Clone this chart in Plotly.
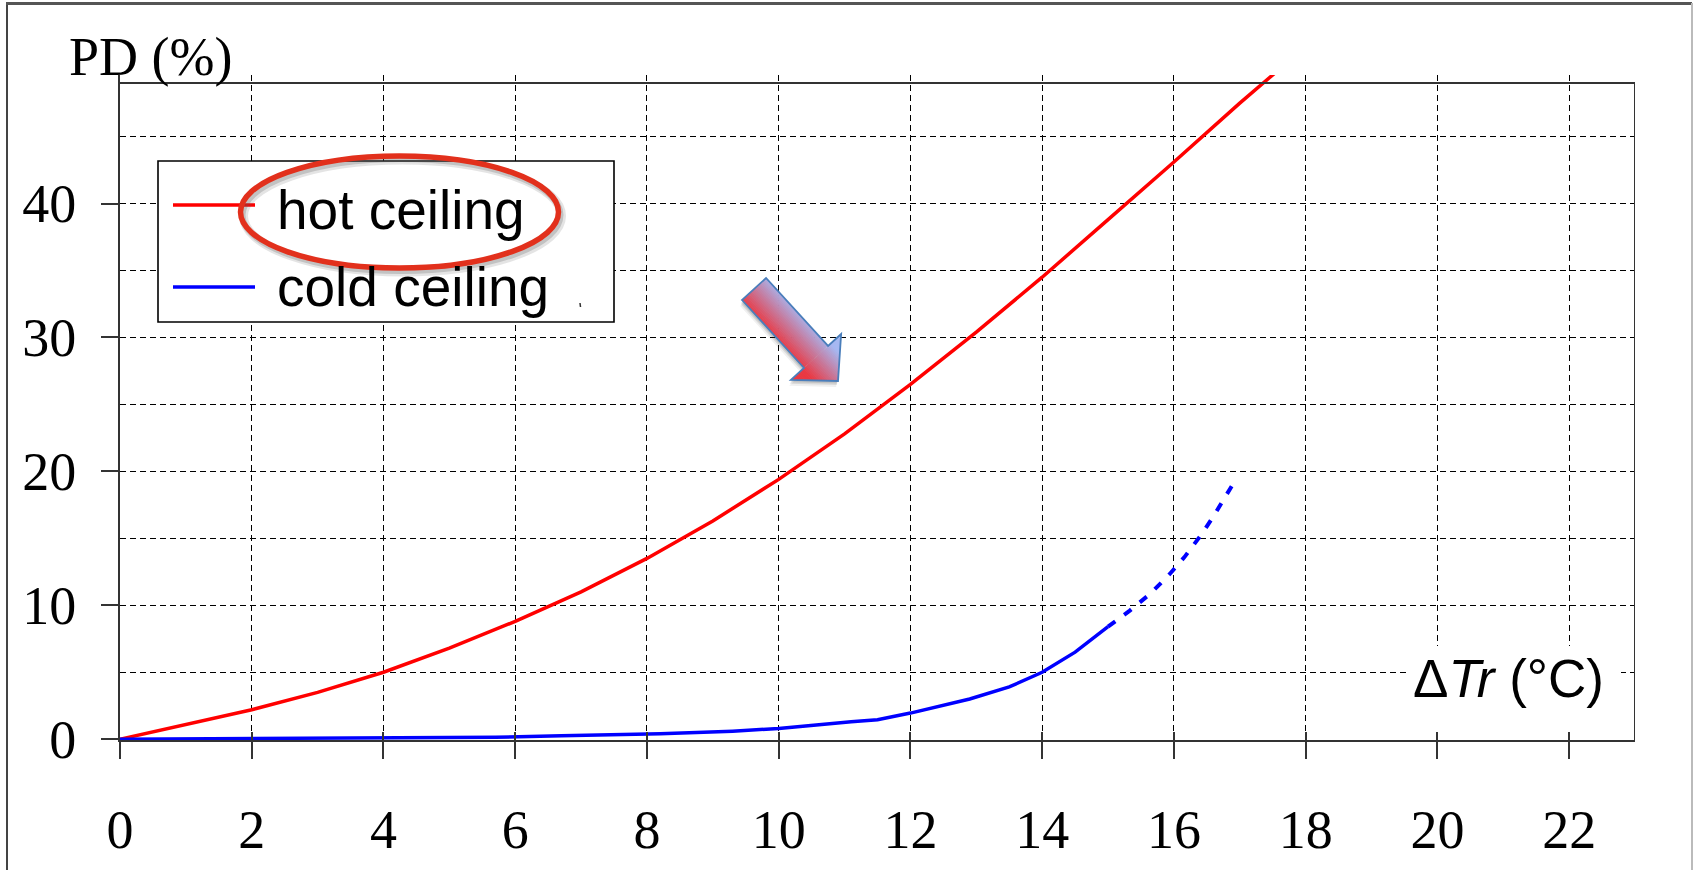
import plotly.graph_objects as go

# ---- data -------------------------------------------------------------
hot_x = [0, 1, 2, 3, 4, 5, 6, 7, 8, 9, 10, 11, 12, 13, 14, 15, 16, 17, 17.57]
hot_y = [0, 1.1, 2.2, 3.5, 5.0, 6.8, 8.8, 11.0, 13.5, 16.3, 19.4, 22.8, 26.5,
         30.4, 34.5, 38.8, 43.1, 47.5, 49.9]

cold_x = [0, 5.7, 6.7, 8.2, 9.3, 10, 11.1, 11.5, 12, 12.5, 12.9, 13.5, 14, 14.5, 15.0]
cold_y = [0, 0.15, 0.25, 0.4, 0.6, 0.8, 1.3, 1.45, 1.95, 2.5, 3.0, 3.9, 5.0, 6.5, 8.4]

cold_ext_x = [15.0, 15.33, 15.65, 15.93, 16.16, 16.42, 16.62, 16.89]
cold_ext_y = [8.4, 9.6, 10.9, 12.3, 13.6, 15.3, 16.8, 19.0]

x_ticks = [0, 2, 4, 6, 8, 10, 12, 14, 16, 18, 20, 22]
y_ticks = [0, 10, 20, 30, 40]

series_names = ["hot ceiling", "cold ceiling"]
series_colors = ["#ff0000", "#0000ff"]

X_RANGE = [0, 23]
Y_RANGE = [-0.06, 49.6]
Y_TOP = 49

W, H = 1694, 870
L, R, T, B = 120, 59, 75, 130
PW, PH = W - L - R, H - T - B


def px(x):
    return (x - L) / PW


def py(y):
    return (H - B - y) / PH


fig = go.Figure()

fig.add_trace(go.Scatter(x=hot_x, y=hot_y, mode="lines", name=series_names[0],
                         line=dict(color=series_colors[0], width=3.5),
                         showlegend=False))
fig.add_trace(go.Scatter(x=cold_x, y=cold_y, mode="lines", name=series_names[1],
                         line=dict(color=series_colors[1], width=3.5),
                         showlegend=False))
fig.add_trace(go.Scatter(x=cold_ext_x, y=cold_ext_y, mode="lines",
                         line=dict(color=series_colors[1], width=4, dash="9px,11px"),
                         showlegend=False))
# carrier for the inward half of the cross ticks on the bottom axis
fig.add_trace(go.Scatter(x=[], y=[], xaxis="x2", showlegend=False))

grid_dash = "6px,4px"
tick_font = dict(family="Liberation Serif", size=54, color="black")

fig.update_layout(
    width=W, height=H,
    margin=dict(l=L, r=R, t=T, b=B, pad=0),
    paper_bgcolor="white", plot_bgcolor="white",
    xaxis=dict(range=X_RANGE, tickmode="array", tickvals=x_ticks,
               ticktext=[str(v) for v in x_ticks], automargin=False,
               showgrid=True, gridcolor="black", gridwidth=1.3, griddash=grid_dash,
               zeroline=False, showline=True, linecolor="#333", linewidth=2,
               mirror=False, ticks="outside", ticklen=17, tickwidth=2, tickcolor="#333",
               tickfont=tick_font, ticklabelstandoff=24, fixedrange=True),
    xaxis2=dict(range=X_RANGE, overlaying="x", anchor="y", side="bottom",
                tickmode="array", tickvals=x_ticks, showticklabels=False,
                automargin=False,
                showgrid=False, zeroline=False, showline=False,
                ticks="inside", ticklen=8, tickwidth=2, tickcolor="#333"),
    yaxis=dict(range=Y_RANGE, tickmode="array", tickvals=y_ticks,
               ticktext=[str(v) for v in y_ticks], automargin=False,
               showgrid=True, gridcolor="black", gridwidth=1.3, griddash=grid_dash,
               minor=dict(dtick=5, tick0=0, showgrid=True, gridcolor="black",
                          gridwidth=1.3, griddash=grid_dash, ticks=""),
               zeroline=False, showline=True, linecolor="#333", linewidth=2,
               mirror=False, ticks="outside", ticklen=17, tickwidth=2, tickcolor="#333",
               tickfont=tick_font, ticklabelstandoff=14, fixedrange=True),
    showlegend=False,
)

shapes = []

# top and right frame of the plotting box
shapes.append(dict(type="line", xref="x", yref="y", x0=X_RANGE[0], x1=X_RANGE[1],
                   y0=Y_TOP, y1=Y_TOP, line=dict(color="#333", width=2), layer="above"))
shapes.append(dict(type="line", xref="x", yref="y", x0=X_RANGE[1], x1=X_RANGE[1],
                   y0=Y_RANGE[0], y1=Y_TOP, line=dict(color="#333", width=2), layer="above"))

# outer border of the figure
shapes.append(dict(type="line", xref="paper", yref="paper", x0=px(7), x1=px(7),
                   y0=py(3), y1=py(875), line=dict(color="#444", width=2)))
shapes.append(dict(type="line", xref="paper", yref="paper", x0=px(6), x1=px(1692),
                   y0=py(3.5), y1=py(3.5), line=dict(color="#555", width=3)))
shapes.append(dict(type="line", xref="paper", yref="paper", x0=px(1692), x1=px(1692),
                   y0=py(3), y1=py(875), line=dict(color="#bbb", width=2)))

# white backing for the x-axis title
shapes.append(dict(type="rect", xref="paper", yref="paper", x0=px(1407), x1=px(1621),
                   y0=py(646), y1=py(731.5), fillcolor="white", line=dict(width=0),
                   layer="above"))

# legend box and samples
shapes.append(dict(type="rect", xref="paper", yref="paper", x0=px(158), x1=px(614),
                   y0=py(161), y1=py(322), fillcolor="white",
                   line=dict(color="black", width=1.6), layer="above"))
for i, ly in enumerate([205, 287]):
    shapes.append(dict(type="line", xref="paper", yref="paper", x0=px(173), x1=px(255),
                       y0=py(ly), y1=py(ly),
                       line=dict(color=series_colors[i], width=3.5), layer="above"))
shapes.append(dict(type="line", xref="paper", yref="paper", x0=px(580), x1=px(580.5),
                   y0=py(303), y1=py(307), line=dict(color="#333", width=1.5),
                   layer="above"))

# highlight ellipse around the hot-ceiling entry (with soft shadow)
ecx, ecy, erx, ery = 399.5, 212, 159, 56
for dx, dy, col, wd in [(3, 4, "rgba(90,90,90,0.16)", 9), (2, 3, "rgba(90,90,90,0.25)", 6)]:
    shapes.append(dict(type="circle", xref="paper", yref="paper",
                       x0=px(ecx - erx + dx), x1=px(ecx + erx + dx),
                       y0=py(ecy + ery + dy), y1=py(ecy - ery + dy),
                       line=dict(color=col, width=wd), layer="above"))
shapes.append(dict(type="circle", xref="paper", yref="paper",
                   x0=px(ecx - erx), x1=px(ecx + erx),
                   y0=py(ecy + ery), y1=py(ecy - ery),
                   line=dict(color="#e2301c", width=5.5), layer="above"))

# block arrow pointing at the hot-ceiling curve, filled with a red-to-blue gradient
tail = (754.0, 289.0)
tip = (838.0, 381.0)
ax, ay = tip[0] - tail[0], tip[1] - tail[1]
alen = (ax ** 2 + ay ** 2) ** 0.5
ux, uy = ax / alen, ay / alen
vx, vy = uy, -ux          # perpendicular, towards upper right
shaft_hw, shaft_len, head_hw = 16.3, 92.0, 34.0


def to_px(u, v):
    return (tail[0] + u * ux + v * vx, tail[1] + u * uy + v * vy)


shaft_poly = [(0, -shaft_hw), (shaft_len, -shaft_hw), (shaft_len, shaft_hw), (0, shaft_hw)]
head_poly = [(shaft_len, -head_hw), (alen, 0), (shaft_len, head_hw)]
outline = [(0, -shaft_hw), (shaft_len, -shaft_hw), (shaft_len, -head_hw), (alen, 0),
           (shaft_len, head_hw), (shaft_len, shaft_hw), (0, shaft_hw)]


def clip_half(poly, keep):
    out = []
    n = len(poly)
    for i in range(n):
        a, b = poly[i], poly[(i + 1) % n]
        fa, fb = keep(a), keep(b)
        if fa >= 0:
            out.append(a)
        if (fa >= 0) != (fb >= 0):
            t = fa / (fa - fb)
            out.append((a[0] + t * (b[0] - a[0]), a[1] + t * (b[1] - a[1])))
    return out


def path_of(poly_uv, dx=0.0, dy=0.0):
    pts = [to_px(u, v) for u, v in poly_uv]
    return "M " + " L ".join(f"{px(x + dx):.5f},{py(y + dy):.5f}" for x, y in pts) + " Z"


# soft drop shadow
for off, alpha in [(6, 0.08), (4, 0.12), (2.5, 0.14)]:
    shapes.append(dict(type="path", xref="paper", yref="paper",
                       path=path_of(outline, -off * 0.3, off),
                       fillcolor=f"rgba(60,60,60,{alpha})", line=dict(width=0),
                       layer="above"))

c0 = (234, 56, 66)
c1 = (166, 184, 242)
n_bands = 40
v_lo, v_hi = -head_hw, head_hw
for k in range(n_bands):
    a = v_lo + (v_hi - v_lo) * k / n_bands
    b = v_lo + (v_hi - v_lo) * (k + 1) / n_bands
    t = min(1.0, max(0.0, ((a + b) / 2 + 18) / 38))
    col = "rgb({},{},{})".format(*[round(c0[j] + (c1[j] - c0[j]) * t) for j in range(3)])
    for piece in (shaft_poly, head_poly):
        p = clip_half(piece, lambda q, a=a: q[1] - (a - 0.3))
        p = clip_half(p, lambda q, b=b: (b + 0.3) - q[1]) if p else p
        if len(p) >= 3:
            shapes.append(dict(type="path", xref="paper", yref="paper", path=path_of(p),
                               fillcolor=col, line=dict(width=0), layer="above"))
shapes.append(dict(type="path", xref="paper", yref="paper", path=path_of(outline),
                   fillcolor="rgba(0,0,0,0)", line=dict(color="#4a7ebb", width=1.8),
                   layer="above"))

fig.update_layout(shapes=shapes)

annotations = [
    dict(text="PD (%)", xref="paper", yref="paper", x=px(150), y=py(57),
         xanchor="center", yanchor="middle", showarrow=False,
         font=dict(family="Liberation Serif", size=54, color="black")),
    dict(text="Δ<i>Tr</i> (°C)", xref="paper", yref="paper", x=px(1508), y=py(678),
         xanchor="center", yanchor="middle", showarrow=False,
         font=dict(family="Liberation Sans", size=53, color="black")),
    dict(text=series_names[0], xref="paper", yref="paper", x=px(275), y=py(210),
         xanchor="left", yanchor="middle", showarrow=False,
         font=dict(family="Liberation Sans", size=55, color="black")),
    dict(text=series_names[1], xref="paper", yref="paper", x=px(275), y=py(287),
         xanchor="left", yanchor="middle", showarrow=False,
         font=dict(family="Liberation Sans", size=55, color="black")),
]
fig.update_layout(annotations=annotations)

fig.write_html("out.html")
